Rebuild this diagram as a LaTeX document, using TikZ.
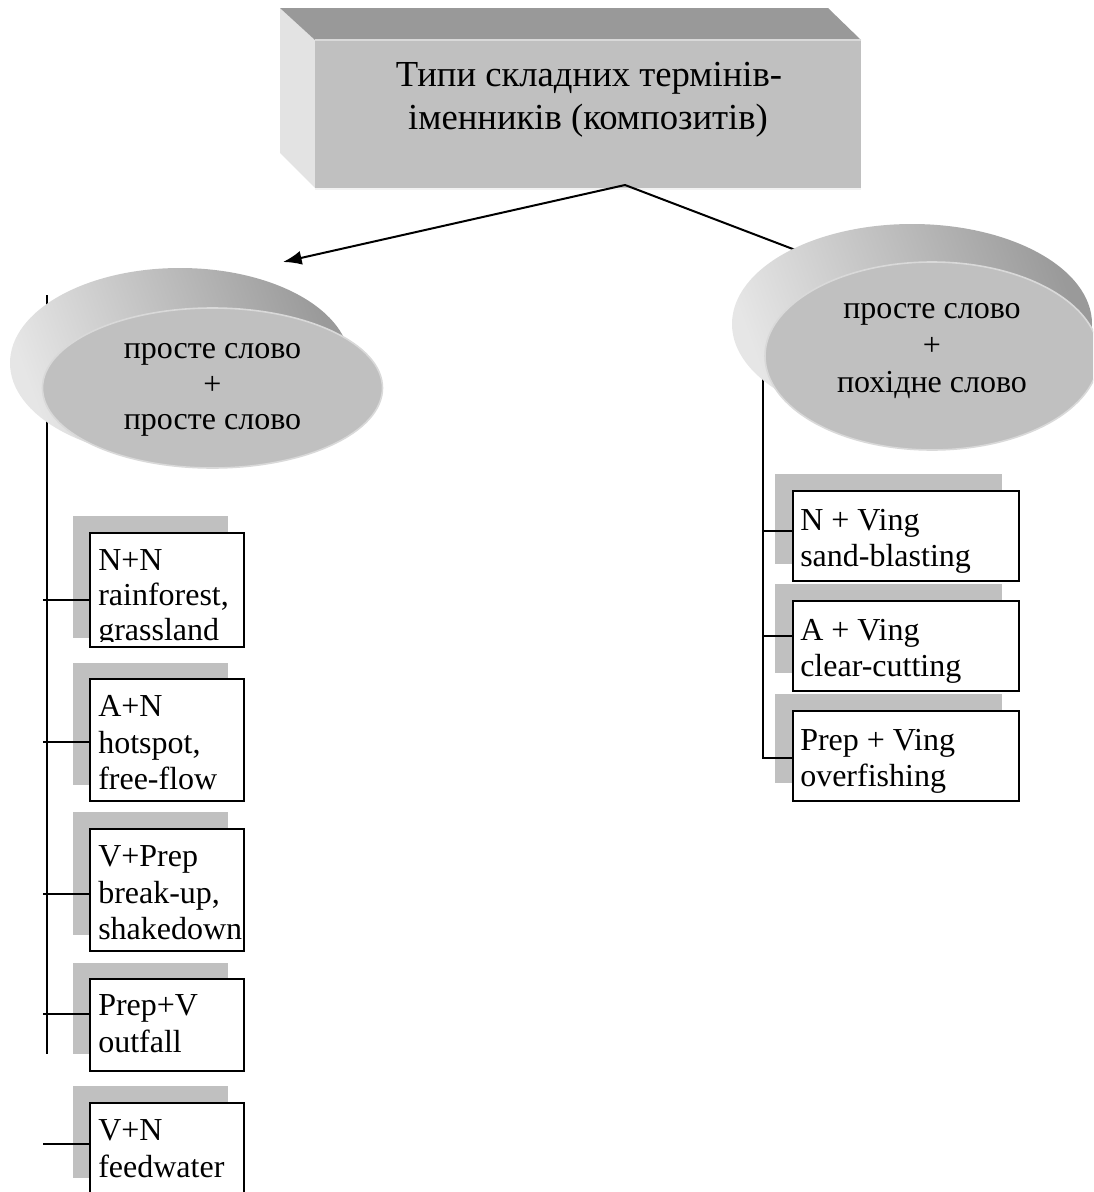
\documentclass[tikz,border=0pt]{standalone}
\usepackage{fontspec}
\setmainfont{Liberation Serif}
\usetikzlibrary{arrows.meta}
\definecolor{facegray}{HTML}{C0C0C0}
\definecolor{topgray}{HTML}{999999}
\definecolor{sidegray}{HTML}{E3E3E3}
\definecolor{rimgray}{HTML}{D9D9D9}
\definecolor{sweeplight}{HTML}{E6E6E6}
\definecolor{sweepdark}{HTML}{9A9A9A}
\definecolor{shadowgray}{HTML}{C0C0C0}

\begin{document}
\begin{tikzpicture}[x=0.75pt,y=-0.75pt,
  txt/.style={inner sep=0pt, font=\fontsize{24}{28}\selectfont},
  ttl/.style={inner sep=0pt, font=\fontsize{27.5}{32}\selectfont},
  termbox/.style={draw, line width=1.5pt, fill=white, inner sep=0pt,
    anchor=north west, minimum width=115.5pt},
  widebox/.style={termbox, minimum width=169.5pt, minimum height=67.5pt},
  wire/.style={line width=1.5pt, line cap=butt},
  shadowbox/.style={fill=shadowgray},
  sweep/.style={top color=sweeplight, bottom color=sweepdark, shading angle=110},
  frontface/.style={fill=facegray, draw=rimgray, line width=1.2pt}
]
\useasboundingbox (0,0) rectangle (1093,1192);
\clip (0,0) rectangle (1093,1192);

% --- title block with bevelled edges ---
\fill[sidegray] (280,8) -- (315,40) -- (315,188) -- (280,153) -- cycle;
\fill[topgray] (280,8) -- (828,8) -- (861,40) -- (315,40) -- cycle;
\fill[facegray] (315,40) rectangle (861,188);
\draw[rimgray, line width=0.8pt] (315,40) -- (861,40);
\draw[white!90!gray, line width=1.2pt] (315,189) -- (861,189);
\node[ttl, anchor=base] (title1) at (589,86) {Типи складних термінів-};
\node[ttl, anchor=base] (title2) at (588,129) {іменників (композитів)};

% --- shadows behind the term boxes ---
\fill[shadowbox] (73,516) rectangle (228,638);
\fill[shadowbox] (73,663) rectangle (228,785);
\fill[shadowbox] (73,812) rectangle (228,935);
\fill[shadowbox] (73,963) rectangle (228,1054);
\fill[shadowbox] (73,1086) rectangle (228,1178);
\fill[shadowbox] (775,474) rectangle (1002,564);
\fill[shadowbox] (775,584) rectangle (1002,673);
\fill[shadowbox] (775,694) rectangle (1002,783);

% --- term boxes ---
\node[termbox, minimum height=85.5pt] (nn) at (89,532) {};
\node[termbox, minimum height=91.5pt] (an) at (89,678) {};
\node[termbox, minimum height=91.5pt] (vprep) at (89,828) {};
\node[termbox, minimum height=69pt] (prepv) at (89,978) {};
\node[termbox, minimum height=75pt] (vn) at (89,1102) {};
\node[widebox] (nving) at (792,490) {};
\node[widebox] (aving) at (792,600) {};
\node[widebox] (prepving) at (792,710) {};

% --- connector coordinates ---
\coordinate (apex) at (625,185);
\coordinate (leftend) at (283,262);
\coordinate (rightend) at (840,267);
\coordinate (ltop) at (47,295);
\coordinate (lbot) at (47,1054);
\coordinate (rtop) at (763,340);
\coordinate (rbot) at (763,758);
\coordinate (k1) at (43,600);
\coordinate (k2) at (43,742);
\coordinate (k3) at (43,894);
\coordinate (k4) at (43,1014);
\coordinate (k5) at (43,1144);
\coordinate (q1) at (763,531);
\coordinate (q2) at (763,636);

% trunks and branches
\draw[wire] (ltop) -- (lbot);
\draw[wire] (k1) -- (k1 -| nn.west);
\draw[wire] (k2) -- (k2 -| an.west);
\draw[wire] (k3) -- (k3 -| vprep.west);
\draw[wire] (k4) -- (k4 -| prepv.west);
\draw[wire] (k5) -- (k5 -| vn.west);
\draw[wire, line join=miter] (rtop) -- (rbot) -- (rbot -| prepving.west);
\draw[wire] (q1) -- (q1 -| nving.west);
\draw[wire] (q2) -- (q2 -| aving.west);

% links from the title block
\draw[wire, line cap=round] (apex) -- (rightend);
\draw[wire, line cap=round, -{Latex[length=14pt,width=10.5pt]}] (apex) -- (leftend);

% --- left disc: rear rim then face ---
\shade[sweep] (180,363) ellipse [x radius=170, y radius=95];
\filldraw[frontface] (212.5,388) ellipse [x radius=170, y radius=80];
\node[txt, anchor=base] (l1) at (212.5,358) {просте слово};
\node[txt, anchor=base] (l2) at (212.5,394) {+};
\node[txt, anchor=base] (l3) at (212.5,429) {просте слово};

% --- right disc: rear rim then face ---
\shade[sweep] (912,324) ellipse [x radius=180, y radius=100];
\filldraw[frontface] (932,356) ellipse [x radius=167, y radius=94];
\node[txt, anchor=base] (r1) at (932,318) {просте слово};
\node[txt, anchor=base] (r2) at (932,355) {+};
\node[txt, anchor=base] (r3) at (932,392) {похідне слово};

% --- texts of the term boxes ---
\begin{scope}
  \clip (89,532) rectangle (243,641);
  \node[txt, anchor=base west] (nn1) at (98,570) {N+N};
  \node[txt, anchor=base west] (nn2) at (98,605) {rainforest,};
  \node[txt, anchor=base west] (nn3) at (98,640) {grassland};
\end{scope}
\node[txt, anchor=base west] (an1) at (98,716) {A+N};
\node[txt, anchor=base west] (an2) at (98,753) {hotspot,};
\node[txt, anchor=base west] (an3) at (98,789) {free-flow};
\node[txt, anchor=base west] (vp1) at (98,866) {V+Prep};
\node[txt, anchor=base west] (vp2) at (98,903) {break-up,};
\node[txt, anchor=base west] (vp3) at (98,939) {shakedown};
\node[txt, anchor=base west] (pv1) at (98,1015) {Prep+V};
\node[txt, anchor=base west] (pv2) at (98,1052) {outfall};
\node[txt, anchor=base west] (vn1) at (98,1140) {V+N};
\node[txt, anchor=base west] (vn2) at (98,1177) {feedwater};

\node[txt, anchor=base west] (nv1) at (800,530) {N + Ving};
\node[txt, anchor=base west] (nv2) at (800,566) {sand-blasting};
\node[txt, anchor=base west] (av1) at (800,640) {A + Ving};
\node[txt, anchor=base west] (av2) at (800,676) {clear-cutting};
\node[txt, anchor=base west] (pg1) at (800,750) {Prep + Ving};
\node[txt, anchor=base west] (pg2) at (800,786) {overfishing};
\end{tikzpicture}
\end{document}
